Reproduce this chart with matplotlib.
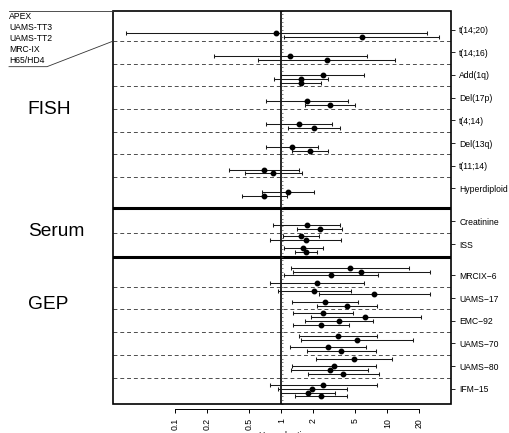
import numpy as np
import matplotlib
matplotlib.use('Agg')
import matplotlib.pyplot as plt
from matplotlib.lines import Line2D
from matplotlib.markers import TICKRIGHT
from matplotlib.patches import Rectangle
from matplotlib.transforms import blended_transform_factory

plt.rcParams['font.family'] = ['Liberation Sans', 'DejaVu Sans']

# studies, top to bottom inside each slot
studies = ['APEX', 'UAMS-TT3', 'UAMS-TT2', 'MRC-IX', 'H65/HD4']

# ---- FISH
fish_labels = ['t(14;20)', 't(14;16)', 'Add(1q)', 'Del(17p)', 't(4;14)',
               'Del(13q)', 't(11;14)', 'Hyperdiploid']
fish_cat = [0, 0, 1, 1, 2, 2, 2, 3, 3, 4, 4, 5, 5, 6, 6, 7, 7]
fish_pos = [4, 5, 4, 5, 3, 4, 5, 4, 5, 4, 5, 4, 5, 4, 5, 4, 5]
fish_hr = [0.90, 5.73, 1.21, 2.68, 2.45, 1.52, 1.52, 1.75, 2.86, 1.48, 2.03,
           1.25, 1.86, 0.686, 0.84, 1.16, 0.686]
fish_lo = [0.034, 1.06, 0.233, 0.607, 1.0, 0.847, 0.98, 0.717, 1.67, 0.717, 1.16,
           0.717, 1.27, 0.323, 0.454, 0.652, 0.428]
fish_hi = [23.5, 30.9, 6.38, 11.9, 5.98, 2.74, 2.35, 4.29, 4.92, 3.03, 3.58,
           2.22, 2.74, 1.47, 1.56, 2.05, 1.12]

# ---- Serum
serum_labels = ['Creatinine', 'ISS']
serum_cat = [0, 0, 1, 1, 1, 1]
serum_pos = [4, 5, 1, 2, 4, 5]
serum_hr = [1.73, 2.32, 1.53, 1.70, 1.61, 1.71]
serum_lo = [0.84, 1.42, 1.03, 0.79, 1.06, 1.36]
serum_hi = [3.58, 3.76, 2.28, 3.66, 2.45, 2.19]

# ---- GEP
gep_labels = ['MRCIX\u22126', 'UAMS\u221217', 'EMC\u221292', 'UAMS\u221270',
              'UAMS\u221280', 'IFM\u221215']
gep_cat = [0, 0, 0, 0, 1, 1, 1, 1, 2, 2, 2, 2, 3, 3, 3, 3, 4, 4, 4, 4, 5, 5, 5, 5]
gep_pos = [1, 2, 3, 5, 1, 2, 4, 5, 1, 2, 3, 4, 1, 2, 4, 5, 1, 3, 4, 5, 2, 3, 4, 5]
gep_hr = [4.41, 5.64, 2.96, 2.19, 2.05, 7.54, 2.60, 4.16, 2.45, 6.2, 3.47, 2.38,
          3.42, 5.14, 2.74, 3.66, 4.85, 3.14, 2.86, 3.85, 2.47, 1.96, 1.77, 2.37]
gep_lo = [1.23, 1.29, 1.06, 0.79, 0.937, 2.28, 1.26, 2.19, 1.30, 1.89, 1.67, 1.30,
          1.48, 1.54, 1.21, 1.73, 2.11, 1.26, 1.24, 1.77, 0.78, 0.937, 0.986, 1.36]
gep_hi = [15.9, 25.1, 8.22, 6.07, 4.51, 25.1, 5.33, 8.05, 4.74, 20.6, 7.38, 4.38,
          8.05, 17.3, 6.29, 7.76, 11.07, 7.88, 6.52, 8.41, 7.99, 4.13, 3.18, 4.19]

xticks = [0.1, 0.2, 0.5, 1, 2, 5, 10, 20]
xticklabels = ['0.1', '0.2', '0.5', '1', '2', '5', '10', '20']

# layout (y units, top = 0)
sections = [
    ('FISH', fish_labels, fish_cat, fish_pos, fish_hr, fish_lo, fish_hi, 5.0, 26.0),
    ('Serum', serum_labels, serum_cat, serum_pos, serum_hr, serum_lo, serum_hi, 55.7, 58.5),
    ('GEP', gep_labels, gep_cat, gep_pos, gep_hr, gep_lo, gep_hi, 70.0, 77.6),
]
thick_y = [52.2, 65.15]
YMAX = 104

W, H = 510, 433
fig = plt.figure(figsize=(W / 100, H / 100), dpi=100)
ax = fig.add_axes([113.5 / W, 1 - 404 / H, (451.5 - 113.5) / W, (404 - 10.7) / H])
ax.set_xscale('log')
ax.set_xlim(0.0261, 40.3)
ax.set_ylim(YMAX, 0)

tick_y = []
tick_lab = []
label_trans = blended_transform_factory(fig.transFigure, ax.transData)
for name, labs, cat, pos, hr, lo, hi, c0, name_y in sections:
    centers = c0 + 6 * np.arange(len(labs))
    cat = np.array(cat)
    y = centers[cat] + np.array(pos) - 3
    hr = np.array(hr)
    err = [hr - np.array(lo), np.array(hi) - hr]
    ax.errorbar(hr, y, xerr=err, fmt='o', ms=3.2, mfc='black', mec='black',
                ecolor='0.1', elinewidth=0.75, capsize=1.1, capthick=0.75, zorder=4)
    for c in centers[:-1]:
        ax.axhline(c + 3, color='0.3', lw=0.7, ls=(0, (4, 3)), zorder=1)
    tick_y += list(centers)
    tick_lab += labs
    ax.text(27.7 / W, name_y, name, transform=label_trans, fontsize=13.8,
            ha='left', va='center')

for t in thick_y:
    ax.axhline(t, color='black', lw=2.2, zorder=3)

ax.axvline(1, color='black', lw=1.2, zorder=3)
rug = np.arange(0, YMAX + 1)
ax.plot(np.ones(len(rug)), rug, lw=0, marker=TICKRIGHT, ms=1.6, mew=0.5,
        color='0.3', zorder=3)

# frame
ax.add_patch(Rectangle((0, 0), 1, 1, transform=ax.transAxes, fill=False,
                       lw=1.2, ec='black', clip_on=False, zorder=5))
for s in ['left', 'top', 'right']:
    ax.spines[s].set_visible(False)
ax.spines['bottom'].set_position(('outward', 3.6))
ax.spines['bottom'].set_bounds(0.1, 20)
ax.spines['bottom'].set_linewidth(0.7)

ax.set_xticks(xticks)
ax.set_xticklabels(xticklabels, rotation=90)
ax.xaxis.set_minor_locator(matplotlib.ticker.NullLocator())
ax.tick_params(axis='x', length=3, width=0.7, pad=3.3, labelsize=6.3)
ax.set_xlabel('Hazard ratio', fontsize=6.2, labelpad=0.5)

ax.yaxis.tick_right()
ax.set_yticks(tick_y)
ax.set_yticklabels(tick_lab)
ax.tick_params(axis='y', length=3, width=0.6, pad=2.6, labelsize=6.2)

# study legend with bracket
for i, s in enumerate(studies):
    ax.text(9 / W, 1.65 + 2.9 * i, s, transform=label_trans, fontsize=6.2,
            ha='left', va='center')
xl = 113.5 / W
fig.add_artist(Line2D([9 / W, xl], [0, 0], transform=label_trans, color='0.2', lw=0.6))
fig.add_artist(Line2D([9 / W, 47 / W, xl], [14.8, 14.8, 8], transform=label_trans,
                      color='0.2', lw=0.6))

fig.savefig('out.png', dpi=100)
